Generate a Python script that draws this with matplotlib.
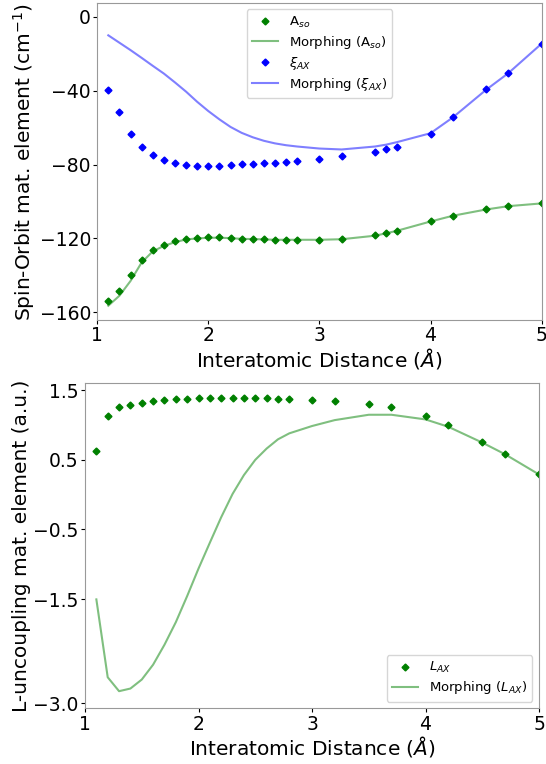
import numpy as np
import matplotlib
matplotlib.use("Agg")
import matplotlib.pyplot as plt

# --- data ---
r_top = [1.1, 1.2, 1.3, 1.4, 1.5, 1.6, 1.7, 1.8, 1.9, 2.0, 2.1, 2.2, 2.3, 2.4,
         2.5, 2.6, 2.7, 2.8, 3.0, 3.2, 3.5, 3.6, 3.7, 4.0, 4.2, 4.5, 4.7, 5.0]

a_so = [-153.7, -148.3, -140.0, -131.6, -126.4, -123.3, -121.2, -120.1, -119.7,
        -119.3, -119.3, -119.7, -120.1, -120.1, -120.4, -120.6, -120.6, -120.6,
        -120.6, -120.3, -118.3, -117.0, -115.7, -110.7, -107.6, -104.2, -102.4, -100.9]
a_so_morph = [-156.4, -151.0, -143.0, -133.0, -127.0, -124.0, -122.0, -120.5, -120.0,
              -119.6, -119.6, -119.8, -120.2, -120.3, -120.5, -120.7, -120.7, -120.7,
              -120.7, -120.4, -118.5, -117.2, -115.8, -110.8, -107.7, -104.3, -102.5, -101.0]

xi_ax = [-39.6, -51.4, -63.3, -70.2, -74.9, -77.4, -79.2, -80.1, -80.5, -80.7,
         -80.5, -80.1, -79.7, -79.6, -79.2, -79.0, -78.5, -77.8, -77.0, -75.6,
         -73.2, -71.8, -70.2, -63.3, -54.4, -39.2, -30.4, -14.5]
xi_morph = [-10.0, -14.0, -18.0, -22.2, -26.5, -30.7, -35.5, -40.5, -46.0, -51.0,
            -55.5, -59.6, -62.8, -65.2, -67.1, -68.5, -69.5, -70.2, -71.3, -71.8,
            -70.2, -69.2, -67.8, -63.0, -54.5, -39.5, -30.5, -14.5]

r_bot = [1.1, 1.2, 1.3, 1.4, 1.5, 1.6, 1.7, 1.8, 1.9, 2.0, 2.1, 2.2, 2.3, 2.4,
         2.5, 2.6, 2.7, 2.8, 3.0, 3.2, 3.5, 3.7, 4.0, 4.2, 4.5, 4.7, 5.0]
l_ax = [0.63, 1.124, 1.257, 1.295, 1.324, 1.352, 1.362, 1.371, 1.381, 1.39,
        1.39, 1.39, 1.39, 1.39, 1.39, 1.386, 1.381, 1.376, 1.367, 1.348,
        1.30, 1.257, 1.129, 0.995, 0.752, 0.59, 0.29]
l_morph = [-1.505, -2.624, -2.824, -2.786, -2.657, -2.443, -2.157, -1.833, -1.457,
           -1.062, -0.69, -0.324, 0.01, 0.281, 0.5, 0.662, 0.795, 0.881, 0.986,
           1.071, 1.148, 1.148, 1.081, 0.976, 0.748, 0.581, 0.29]

top_yticks = [0, -40, -80, -120, -160]
bot_yticks = [1.5, 0.5, -0.5, -1.5, -3.0]

fs = 13.5      # tick labels
lfs = 14.5     # axis labels
fig = plt.figure(figsize=(5.46, 7.64), dpi=100)
ax1 = fig.add_axes([0.178, 0.581, 0.814, 0.4153])
ax2 = fig.add_axes([0.1557, 0.0729, 0.8315, 0.4254])

# top panel: spin-orbit
ax1.plot(r_top, a_so, 'D', color='green', ms=3.5, label='A$_{so}$')
ax1.plot(r_top, a_so_morph, '-', color='green', alpha=0.5, lw=1.5, label='Morphing (A$_{so}$)')
ax1.plot(r_top, xi_ax, 'D', color='blue', ms=3.5, label=r'$\xi_{AX}$')
ax1.plot(r_top, xi_morph, '-', color='blue', alpha=0.5, lw=1.5, label=r'Morphing ($\xi_{AX}$)')
ax1.set_xlim(1, 5)
ax1.set_ylim(-164.2, 7.6)
ax1.set_yticks(top_yticks)
ax1.set_xticks([1, 2, 3, 4, 5])
ax1.set_xlabel('Interatomic Distance ($\\AA$)', fontsize=lfs, labelpad=0.5)
ax1.set_ylabel('Spin-Orbit mat. element (cm$^{-1}$)', fontsize=lfs, labelpad=2)
ax1.legend(loc='upper center', numpoints=1, fontsize=9.5, labelspacing=0.3)

# bottom panel: L-uncoupling
ax2.plot(r_bot, l_ax, 'D', color='green', ms=3.5, label='$L_{AX}$')
ax2.plot(r_bot, l_morph, '-', color='green', alpha=0.5, lw=1.5, label='Morphing ($L_{AX}$)')
ax2.set_xlim(1, 5)
ax2.set_ylim(-3.07, 1.6)
ax2.set_yticks(bot_yticks)
ax2.set_xticks([1, 2, 3, 4, 5])
ax2.set_xlabel('Interatomic Distance ($\\AA$)', fontsize=lfs, labelpad=0.5)
ax2.set_ylabel('L-uncoupling mat. element (a.u.)', fontsize=lfs, labelpad=2)
ax2.legend(loc='lower right', numpoints=1, fontsize=9.5, labelspacing=0.3)

for ax in (ax1, ax2):
    ax.tick_params(labelsize=fs, length=3, pad=1.5)
    for s in ax.spines.values():
        s.set_color('#999999')

fig.savefig('out.png', dpi=100)
